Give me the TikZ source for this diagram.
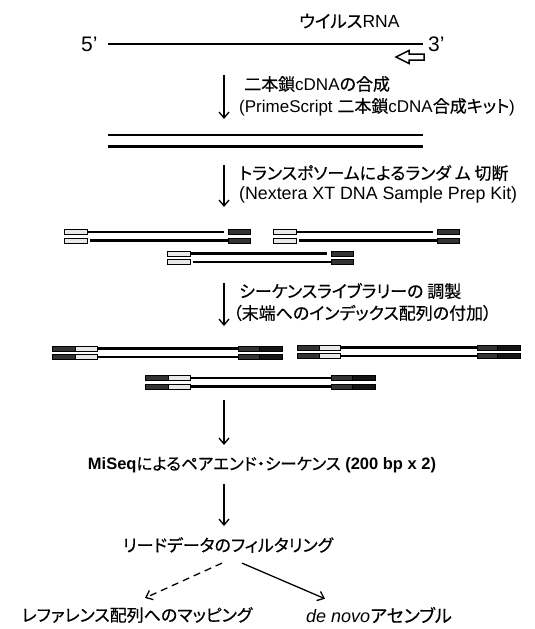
\documentclass[tikz,border=0pt]{standalone}
\usepackage{fontspec}
\setmainfont{Liberation Sans}
\newfontfamily\jp[RawFeature=+palt,FakeBold=0.5]{Noto Sans CJK JP}
\newcommand\J[1]{{\jp #1}}
\usetikzlibrary{arrows.meta}
\begin{document}
\begin{tikzpicture}[x=1pt,y=-1pt,
  strand/.style={line width=2.2pt},
  tipstyle/.style={-{Straight Barb[length=6pt,width=10pt,line width=1.3pt]}},
  varrow/.style={line width=1.2pt,tipstyle},
  txt/.style={inner sep=0pt,font=\fontsize{17}{20}\selectfont},
  endlab/.style={inner sep=0pt,font=\fontsize{21}{24}\selectfont},
  whitead/.style={draw,line width=0.9pt,fill=gray!18},
  darkad/.style={draw,line width=0.9pt,fill=black!80},
  darkerad/.style={draw,line width=0.9pt,fill=black!92},
  tfrag/.pic={
    \filldraw[whitead] (0,-2.5) rectangle (23,2.5);
    \draw[strand] (23,0) -- (160,0);
    \filldraw[darkad] (164,-2.5) rectangle (186,2.5);
    \filldraw[whitead] (0,6) rectangle (23,11);
    \draw[strand] (25.5,8.5) -- (164,8.5);
    \filldraw[darkad] (164,6) rectangle (186,11);
  },
  lfrag/.pic={
    \foreach \yy in {0,8.5}{
      \filldraw[darkad] (0,\yy-2.5) rectangle (23,\yy+2.5);
      \filldraw[whitead] (23,\yy-2.5) rectangle (45,\yy+2.5);
      \draw[strand] (45,\yy) -- (186,\yy);
      \filldraw[darkad] (186,\yy-2.5) rectangle (207,\yy+2.5);
      \filldraw[darkerad] (207,\yy-2.5) rectangle (230,\yy+2.5);
    }
  }
]
\useasboundingbox (0,0) rectangle (535,629);

% --- viral RNA ---
\node[endlab,anchor=west] (p5) at (81,44) {5'};
\node[endlab,anchor=west] (p3) at (428,44) {3'};
\draw[strand] ([xshift=10pt]p5.east) -- ([xshift=-5pt]p3.west);
\node[txt,anchor=west,font=\fontsize{17.5}{20}\selectfont] (rna) at (299,21) {\J{ウイルス}RNA};
\draw[line width=1.5pt,line join=miter]
  (396,57) -- (409,50.5) -- (409,54) -- (424,54) -- (424,60) -- (409,60) -- (409,63.5) -- cycle;

% --- step 1 ---
\coordinate (a1s) at (224,75);
\coordinate (a1e) at (224,119);
\draw[varrow] (a1s) -- (a1e);
\node[txt,anchor=west] (t1a) at (244,84) {\J{二本鎖}cDNA\J{の合成}};
\node[txt,anchor=west] (t1b) at (239,107) {(PrimeScript \J{二本鎖}cDNA\J{合成キット})};

% --- double stranded cDNA ---
\coordinate (ds1) at (108,135);
\coordinate (ds2) at (423,135);
\coordinate (ds3) at (108,146.5);
\coordinate (ds4) at (423,146.5);
\draw[line width=2.6pt] (ds1) -- (ds2);
\draw[line width=2.6pt] (ds3) -- (ds4);

% --- step 2 ---
\coordinate (a2s) at (224,165);
\coordinate (a2e) at (224,207);
\draw[varrow] (a2s) -- (a2e);
\node[txt,anchor=west] (t2a) at (239,173) {\J{トランスポソームによるランダ ム 切断}};
\node[txt,anchor=west,font=\fontsize{17.8}{20}\selectfont] (t2b) at (239,195) {(Nextera XT DNA Sample Prep Kit)};

% --- fragments ---
\pic at (64,232) {tfrag};
\pic at (273,232) {tfrag};
\pic at (167,253.5) {tfrag};

% --- step 3 ---
\coordinate (a3s) at (224,283);
\coordinate (a3e) at (224,326);
\draw[varrow] (a3s) -- (a3e);
\node[txt,anchor=west] (t3a) at (239,291) {\J{シーケンスライブラリーの 調製}};
\node[txt,anchor=west] (t3b) at (233,313) {\J{（末端へのインデックス配列の付加）}};

% --- library fragments ---
\pic at (52,348.5) {lfrag};
\pic[xscale=0.97] at (297,347.5) {lfrag};
\pic at (145,378) {lfrag};

% --- sequencing ---
\coordinate (a4s) at (224,400);
\coordinate (a4e) at (224,445);
\draw[varrow] (a4s) -- (a4e);
\node[txt,font=\fontsize{16.5}{20}\selectfont] (seq) at (262,465) {\textbf{MiSeq}\J{によるペアエンド・シーケンス} \textbf{(200 bp x 2)}};

\coordinate (a5s) at (224,484);
\coordinate (a5e) at (224,526);
\draw[varrow] (a5s) -- (a5e);
\node[txt] (filt) at (228,545) {\J{リードデータのフィルタリング}};

% --- outcomes ---
\node[txt] (map) at (137,615) {\J{レファレンス配列へのマッピング}};
\node[txt,anchor=west,font=\fontsize{18}{21}\selectfont] (denovo) at (306,615) {\textit{de novo}\J{アセンブル}};
\draw[line width=1.3pt,dash pattern=on 7pt off 5pt,tipstyle]
  ([xshift=-6pt,yshift=-10pt]filt.south) -- ([xshift=8pt,yshift=9pt]map.north);
\draw[line width=1.3pt,tipstyle]
  ([xshift=14pt,yshift=-10pt]filt.south) -- ([xshift=19pt,yshift=8pt]denovo.north west);
\end{tikzpicture}
\end{document}
